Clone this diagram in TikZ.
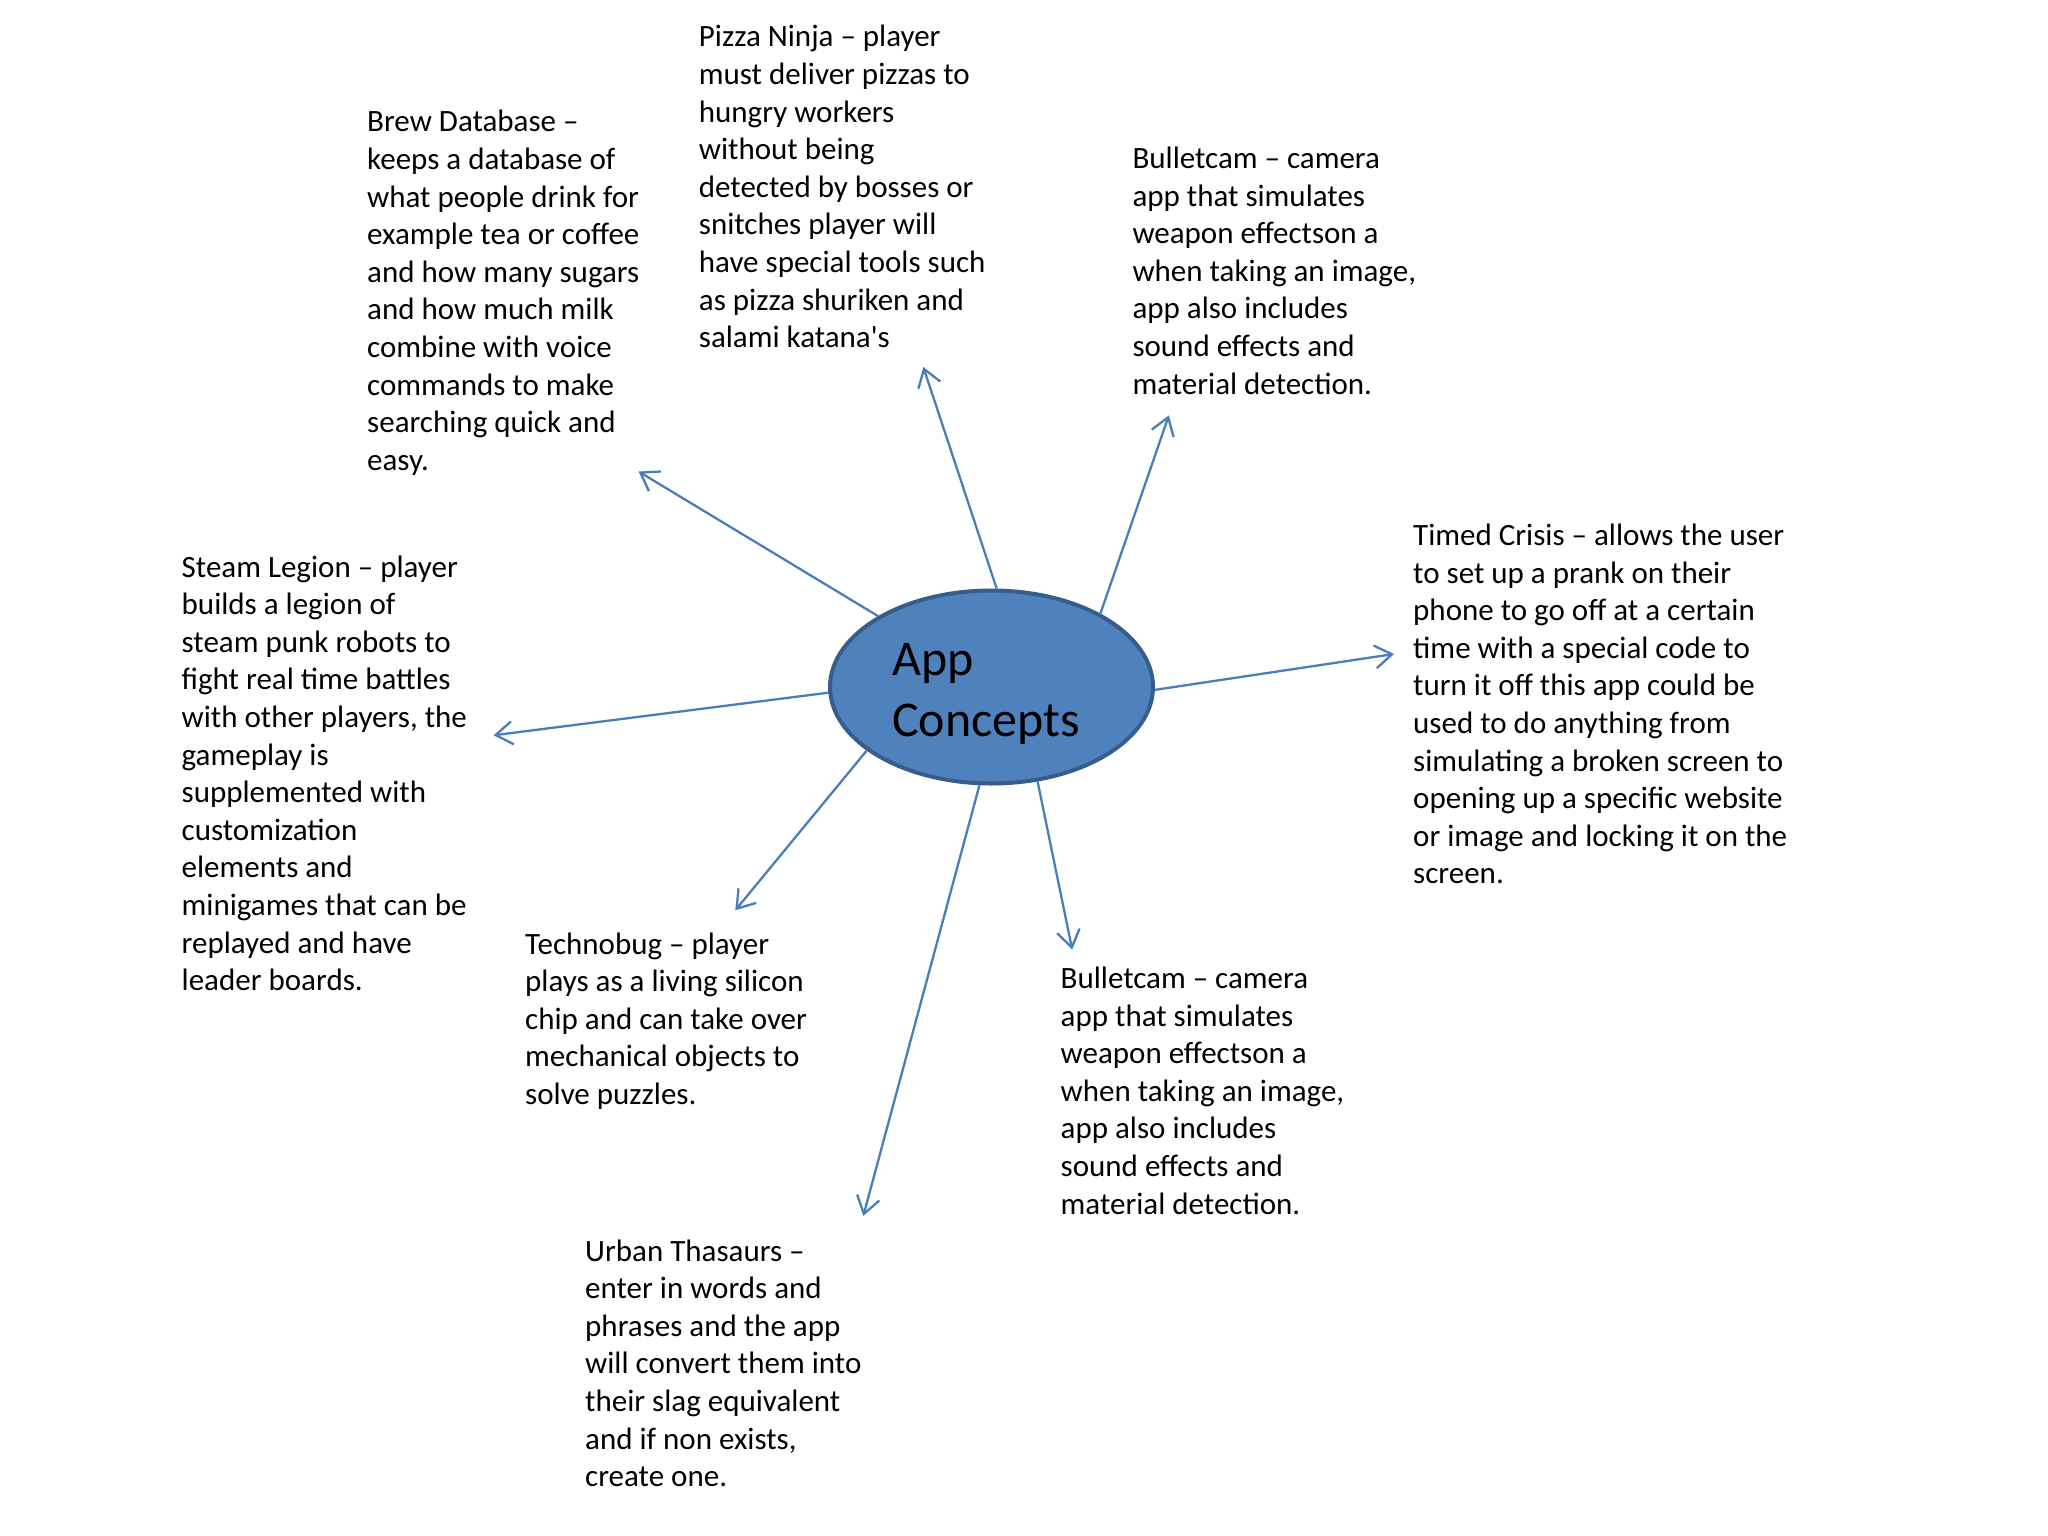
\documentclass[tikz,border=0pt]{standalone}
\usepackage{fontspec}
\setmainfont{Carlito}[Ligatures=TeXOff]
\usetikzlibrary{arrows.meta,shapes.geometric}
\definecolor{linkblue}{HTML}{4A7EBB}
\definecolor{ellfill}{HTML}{4F81BD}
\definecolor{ellborder}{HTML}{385D8A}
\begin{document}
\begin{tikzpicture}[x=1pt,y=-1pt,
  desc/.style={anchor=base west, align=left, inner sep=0pt, font=\fontsize{31}{37.6}\selectfont, text=black},
  link/.style={draw=linkblue, line width=2.3pt, -{Straight Barb[length=17pt,width=23pt]}},
  hub/.style={ellipse, draw=ellborder, fill=ellfill, line width=4pt, minimum width=323pt, minimum height=193pt, inner sep=0pt},
  hubtext/.style={anchor=base west, align=left, inner sep=0pt, font=\fontsize{50}{61}\selectfont, text=black}]
\fill[white] (0,0) rectangle (2048,1536);
\useasboundingbox (0,0) rectangle (2048,1536);

\node[hub] (app) at (991.5,687) {};
\node[hubtext] (apptext) at (892,736) {App\\Concepts};

% anchors are at the baseline of the last line of each text
\node[desc] (brew) at (367,470.2) {Brew Database –\\keeps a database of\\what people drink for\\example tea or coffee\\and how many sugars\\and how much milk\\combine with voice\\commands to make\\searching quick and\\easy.};
\node[desc] (pizza) at (698.7,347.7) {Pizza Ninja – player\\must deliver pizzas to\\hungry workers\\without being\\detected by bosses or\\snitches player will\\have special tools such\\as pizza shuriken and\\salami katana's};
\node[desc] (bulletA) at (1132.3,394) {Bulletcam – camera\\app that simulates\\weapon effectson a\\when taking an image,\\app also includes\\sound effects and\\material detection.};
\node[desc] (timed) at (1413,883.9) {Timed Crisis – allows the user\\to set up a prank on their\\phone to go off at a certain\\time with a special code to\\turn it off this app could be\\used to do anything from\\simulating a broken screen to\\opening up a specific website\\or image and locking it on the\\screen.};
\node[desc] (steam) at (181.5,990.6) {Steam Legion – player\\builds a legion of\\steam punk robots to\\fight real time battles\\with other players, the\\gameplay is\\supplemented with\\customization\\elements and\\minigames that can be\\replayed and have\\leader boards.};
\node[desc] (techno) at (525,1104.4) {Technobug – player\\plays as a living silicon\\chip and can take over\\mechanical objects to\\solve puzzles.};
\node[desc] (bulletB) at (1060.5,1214) {Bulletcam – camera\\app that simulates\\weapon effectson a\\when taking an image,\\app also includes\\sound effects and\\material detection.};
\node[desc] (urban) at (585,1486.6) {Urban Thasaurs –\\enter in words and\\phrases and the app\\will convert them into\\their slag equivalent\\and if non exists,\\create one.};

\coordinate (tipBrew) at (638.6,471.5);
\coordinate (tipPizza) at (923.3,367);
\coordinate (tipBulletA) at (1168.9,415.3);
\coordinate (tipTimed) at (1394,654);
\coordinate (tipSteam) at (493.5,735.3);
\coordinate (tipTechno) at (735.3,910.3);
\coordinate (tipUrban) at (863.3,1215.9);
\coordinate (tipBulletB) at (1072.2,949.5);

\draw[link] (app.148.8) -- (tipBrew);
\draw[link] (app.87) -- (tipPizza);
\draw[link] (app.34.1) -- (tipBulletA);
\draw[link] (app.-1.8) -- (tipTimed);
\draw[link] (app.182.3) -- (tipSteam);
\draw[link] (app.207.2) -- (tipTechno);
\draw[link] (app.263.8) -- (tipUrban);
\draw[link] (app.296.5) -- (tipBulletB);
\end{tikzpicture}
\end{document}
